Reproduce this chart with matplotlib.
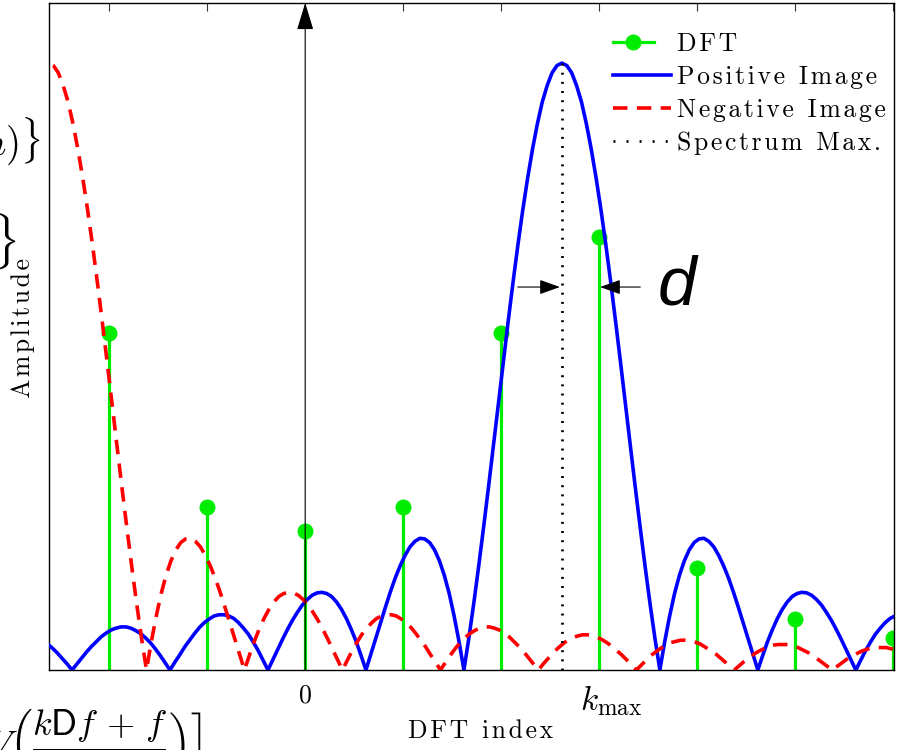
import numpy as np
import matplotlib.pyplot as plt
from matplotlib.lines import Line2D
from matplotlib.legend_handler import HandlerLine2D

# DFT bins and the stem heights (peak of spectrum = 1)
k_dft = [-2, -1, 0, 1, 2, 3, 4, 5, 6]
dft_amp = [0.555, 0.269, 0.229, 0.269, 0.555, 0.713, 0.168, 0.084, 0.053]

# location of the spectrum maximum (in bins)
k_max = 2.62

# magnitude of one image vs. distance from its centre (0, 0.05, ..., 8.65 bins)
lobe_offset = [i / 20 for i in range(174)]
lobe_amp = [
    1.000, 0.996, 0.984, 0.963, 0.936, 0.900, 0.858, 0.810, 0.757, 0.699,
    0.637, 0.572, 0.505, 0.436, 0.368, 0.300, 0.234, 0.170, 0.109, 0.052,
    0.000, 0.047, 0.089, 0.126, 0.156, 0.180, 0.198, 0.210, 0.216, 0.217,
    0.212, 0.203, 0.189, 0.172, 0.152, 0.129, 0.104, 0.078, 0.052, 0.026,
    0.000, 0.024, 0.047, 0.067, 0.085, 0.100, 0.112, 0.121, 0.126, 0.128,
    0.127, 0.123, 0.116, 0.107, 0.095, 0.082, 0.067, 0.051, 0.034, 0.017,
    0.000, 0.016, 0.032, 0.046, 0.059, 0.069, 0.078, 0.085, 0.089, 0.091,
    0.091, 0.089, 0.084, 0.078, 0.070, 0.060, 0.049, 0.038, 0.025, 0.013,
    0.000, 0.012, 0.024, 0.035, 0.045, 0.053, 0.060, 0.065, 0.069, 0.071,
    0.071, 0.069, 0.066, 0.061, 0.055, 0.047, 0.039, 0.030, 0.020, 0.010,
    0.000, 0.010, 0.019, 0.028, 0.036, 0.043, 0.049, 0.053, 0.056, 0.058,
    0.058, 0.057, 0.054, 0.050, 0.045, 0.039, 0.032, 0.025, 0.017, 0.008,
    0.000, 0.008, 0.016, 0.024, 0.030, 0.036, 0.041, 0.045, 0.047, 0.049,
    0.049, 0.048, 0.046, 0.043, 0.038, 0.033, 0.028, 0.021, 0.014, 0.007,
    0.000, 0.007, 0.014, 0.020, 0.026, 0.031, 0.035, 0.039, 0.041, 0.042,
    0.042, 0.042, 0.040, 0.037, 0.033, 0.029, 0.024, 0.018, 0.012, 0.006,
    0.000, 0.006, 0.012, 0.018, 0.023, 0.027, 0.031, 0.034, 0.036, 0.037,
    0.037, 0.037, 0.035, 0.033]

legend_labels = ["DFT", "Positive Image", "Negative Image", "Spectrum Max."]

GREEN = "#00ec00"
BLUE = "#0000ff"
RED = "#ff0000"
SERIF = ["cmr10", "DejaVu Serif"]
DASH = (0, (4.0, 2.6))
DOT = (0, (0.7, 2.6))


def spaced(s):
    # the original text is letter-spaced
    return "\u200a".join(s)


class StemHandler(HandlerLine2D):
    # line with the dot near its right end, like the original legend
    def get_xdata(self, legend, xdescent, ydescent, width, height, fontsize):
        xdata = np.array([-xdescent, -xdescent + 0.7 * width])
        return xdata, np.array([-xdescent + 0.7 * width])


def main():
    off = np.array(lobe_offset)
    amp = np.array(lobe_amp)

    pos_x = np.concatenate([k_max - off[::-1], k_max + off[1:]])
    pos_y = np.concatenate([amp[::-1], amp[1:]])
    neg_x = np.concatenate([-k_max - off[::-1], -k_max + off[1:]])
    neg_y = np.concatenate([amp[::-1], amp[1:]])

    fig = plt.figure(figsize=(9.03, 7.5), dpi=100)
    ax = fig.add_axes([49 / 903, 80 / 750, 845 / 903, 667 / 750])

    # stems
    ax.vlines(k_dft, 0, dft_amp, color=GREEN, lw=2.3, zorder=2)
    ax.plot(k_dft, dft_amp, "o", color=GREEN, ms=10.5, zorder=2)

    ax.plot(pos_x, pos_y, color=BLUE, lw=2.6, zorder=3)
    ax.plot(neg_x, neg_y, color=RED, lw=2.6, ls=DASH, zorder=4)

    # spectrum maximum
    ax.plot([k_max, k_max], [0, 1.0], color="k", lw=2.0, ls=DOT, zorder=5)

    # vertical axis arrow at k = 0
    ax.annotate("", xy=(0, 1.099), xytext=(0, 0),
                arrowprops=dict(arrowstyle="-|>,head_length=0.85,head_width=0.26",
                                mutation_scale=20, color="k", lw=0.8,
                                shrinkA=0, shrinkB=0), zorder=6)

    # width arrows
    arr = dict(arrowstyle="-|>,head_length=0.7,head_width=0.25", mutation_scale=18,
               color="k", lw=0.8, shrinkA=0, shrinkB=0)
    ax.annotate("", xy=(2.60, 0.631), xytext=(2.17, 0.631), arrowprops=arr, zorder=6)
    ax.annotate("", xy=(3.01, 0.631), xytext=(3.42, 0.631), arrowprops=arr, zorder=6)
    ax.text(3.79, 0.632, "d", fontsize=50, style="italic", family="Liberation Sans",
            ha="center", va="center", zorder=6)

    ax.set_xlim(-2.615, 6.01)
    ax.set_ylim(0, 1.099)
    ax.set_xticks(k_dft)
    ax.set_xticklabels([])
    ax.set_yticks([])
    ax.tick_params(axis="x", direction="in", top=True, length=6, width=0.8, color="#333333")
    for s in ax.spines.values():
        s.set_linewidth(1.0)

    # tick annotations under the axis
    ax.text(0, -0.022, "0", fontsize=18.5, family=SERIF, ha="center", va="top")
    ax.text(k_max + 0.19, -0.022, r"$k_{\mathrm{max}}$", fontsize=24, ha="left", va="top",
            math_fontfamily="cm")

    fig.text(481 / 903, 1 - 731 / 750, spaced("DFT index"), fontsize=18.5, family=SERIF,
             ha="center", va="center")
    fig.text(23 / 903, 1 - 328 / 750, spaced("Amplitude"), fontsize=18.5, family=SERIF,
             rotation=90, ha="center", va="center")

    # fragments of neighbouring text cut by the crop
    fig.text(41 / 903, 1 - 141 / 750, r"$\mathbf{\mathit{n}})\}$", fontsize=28, ha="right",
             va="center", math_fontfamily="cm")
    fig.text(16 / 903, 1 - 242 / 750, r"$\}$", fontsize=34, ha="right",
             va="center", math_fontfamily="cm")
    fig.text(202 / 903, 1 - 744 / 750,
             r"$\left.V\left(\dfrac{k\mathsf{D}f\,+\,f}{N}\right)\right]$",
             fontsize=26, ha="right", va="center", math_fontfamily="cm")

    handles = [Line2D([], [], color=GREEN, lw=2.3, marker="o", ms=10.5),
               Line2D([], [], color=BLUE, lw=2.6),
               Line2D([], [], color=RED, lw=2.6, ls=DASH),
               Line2D([], [], color="k", lw=2.0, ls=(0, (0.7, 4.0)))]
    ax.legend(handles, [spaced(t) for t in legend_labels], loc="upper right",
              bbox_to_anchor=(1.0, 0.968), frameon=False, prop={"family": SERIF, "size": 18.5},
              handlelength=2.25, handletextpad=0.25, labelspacing=0.36, borderpad=0.3,
              borderaxespad=0.0, handler_map={handles[0]: StemHandler()})

    fig.savefig("out.png", dpi=100)


if __name__ == "__main__":
    main()
